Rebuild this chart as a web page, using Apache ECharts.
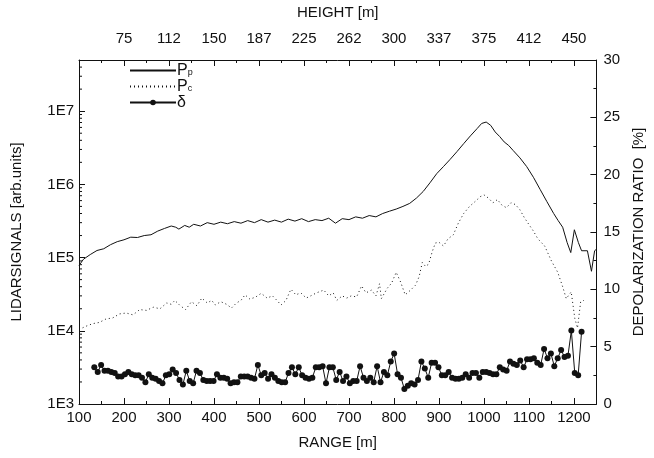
<!DOCTYPE html>
<html>
<head>
<meta charset="utf-8">
<script src="https://cdn.jsdelivr.net/npm/echarts@6/dist/echarts.min.js"></script>
<style>
  html, body { margin: 0; padding: 0; background: #fff; }
  #chart { width: 654px; height: 458px; }
</style>
</head>
<body>
<div id="chart"></div>
<script>
// P_p signal (solid)
const PP_RANGE = [100, 110, 125, 140, 155, 170, 185, 200, 215, 230, 245, 260, 275, 290, 305, 315, 322, 335, 345, 355,
  370, 385, 400, 415, 430, 445, 460, 475, 490, 505, 520, 535, 550, 565, 580, 595, 610, 625, 640, 655,
  670, 685, 700, 715, 730, 745, 760, 775, 790, 805, 820, 835, 850, 865, 880, 895, 910, 925, 940, 955,
  970, 985, 995, 1005, 1015, 1025, 1035, 1045, 1055, 1065, 1080, 1095, 1110, 1125, 1140, 1155, 1165, 1175, 1185, 1193,
  1201, 1210, 1217, 1230, 1239, 1246, 1250];
const PP_SIGNAL = [7.8e4, 9.5e4, 1.1e5, 1.25e5, 1.32e5, 1.5e5, 1.65e5, 1.75e5, 1.9e5, 1.88e5, 2.0e5, 2.05e5, 2.3e5, 2.5e5, 2.7e5, 2.6e5, 2.45e5, 2.75e5, 2.6e5, 2.85e5,
  2.7e5, 3.0e5, 2.85e5, 3.05e5, 2.9e5, 3.1e5, 2.95e5, 3.2e5, 3.0e5, 3.3e5, 3.05e5, 3.25e5, 3.05e5, 3.35e5, 3.15e5, 3.4e5, 3.1e5, 3.3e5, 3.2e5, 3.45e5,
  2.95e5, 3.4e5, 3.3e5, 3.6e5, 3.45e5, 3.75e5, 3.6e5, 4.0e5, 4.3e5, 4.6e5, 5.0e5, 5.5e5, 6.5e5, 8.0e5, 1.05e6, 1.4e6, 1.75e6, 2.2e6, 2.8e6, 3.6e6,
  4.6e6, 5.8e6, 6.8e6, 7.1e6, 6.4e6, 5.2e6, 4.5e6, 3.8e6, 3.4e6, 2.9e6, 2.3e6, 1.75e6, 1.25e6, 8.5e5, 5.8e5, 4.0e5, 3.2e5, 2.6e5, 1.6e5, 1.17e5,
  2.4e5, 1.6e5, 1.24e5, 1.24e5, 6.5e4, 1.24e5, 1.3e5];

// P_c signal (dotted)
const PC_RANGE = [100, 115, 130, 145, 160, 175, 190, 205, 220, 235, 250, 265, 280, 295, 305, 313, 325, 337, 350, 362,
  373, 385, 395, 403, 415, 428, 439, 450, 460, 469, 480, 493, 505, 518, 530, 540, 549, 560, 571, 582,
  593, 605, 615, 628, 644, 655, 665, 673, 685, 695, 705, 717, 728, 738, 750, 760, 768, 772, 785, 795,
  805, 815, 825, 837, 848, 856, 863, 870, 877, 885, 892, 900, 910, 920, 932, 943, 955, 968, 980, 992,
  1000, 1010, 1020, 1030, 1040, 1050, 1060, 1070, 1080, 1090, 1098, 1110, 1120, 1135, 1150, 1164, 1175, 1183, 1194, 1202,
  1208, 1215, 1222];
const PC_SIGNAL = [1.04e4, 1.15e4, 1.25e4, 1.3e4, 1.45e4, 1.5e4, 1.7e4, 1.75e4, 1.65e4, 1.95e4, 1.9e4, 2.1e4, 2.0e4, 2.4e4, 2.3e4, 2.6e4, 2.2e4, 1.95e4, 2.5e4, 2.2e4,
  2.8e4, 2.4e4, 2.6e4, 2.25e4, 2.5e4, 2.3e4, 2.05e4, 2.4e4, 2.6e4, 3.1e4, 2.7e4, 2.9e4, 3.25e4, 2.8e4, 3.0e4, 2.6e4, 2.25e4, 2.6e4, 3.7e4, 3.1e4,
  3.3e4, 2.8e4, 3.0e4, 3.3e4, 3.6e4, 3.0e4, 3.3e4, 2.6e4, 3.0e4, 2.8e4, 3.0e4, 2.9e4, 4.1e4, 3.3e4, 3.6e4, 3.0e4, 4.4e4, 2.75e4, 3.8e4, 4.5e4,
  6.3e4, 4.6e4, 3.1e4, 3.6e4, 4.2e4, 5.5e4, 8.6e4, 7.6e4, 8.1e4, 1.2e5, 1.58e5, 1.62e5, 1.44e5, 1.8e5, 2.05e5, 2.95e5, 4.0e5, 5.0e5, 5.8e5, 6.8e5,
  7.2e5, 6.5e5, 5.6e5, 6.2e5, 5.2e5, 4.8e5, 5.6e5, 5.3e5, 4.5e5, 3.5e5, 2.95e5, 2.3e5, 1.8e5, 1.44e5, 9.0e4, 6.3e4, 4.0e4, 2.75e4, 3.4e4, 1.47e4,
  1.09e4, 2.5e4, 2.6e4];

// depolarization ratio [%], one value per range bin, first bin 134 m, last 1217 m
const DEPOL_FIRST = 134;
const DEPOL_LAST = 1217;
const DEPOL_RATIO = [3.2, 2.8, 3.4, 2.9, 2.9, 2.8, 2.7, 2.4, 2.4, 2.6,
  2.8, 2.6, 2.5, 2.5, 2.3, 1.9, 2.6, 2.3, 2.2, 2.0,
  1.8, 2.5, 2.6, 3.0, 2.7, 2.1, 1.7, 2.9, 2.0, 1.8,
  2.9, 2.7, 2.1, 2.0, 2.0, 2.0, 2.6, 2.3, 2.3, 2.2,
  1.8, 1.9, 1.9, 2.4, 2.4, 2.4, 2.3, 2.2, 3.4, 2.5,
  2.7, 2.2, 2.6, 2.3, 2.0, 1.9, 1.9, 2.7, 3.2, 2.6,
  3.2, 2.5, 2.3, 2.2, 2.3, 3.2, 3.2, 3.3, 1.8, 3.2,
  3.2, 2.1, 2.8, 2.0, 2.4, 1.8, 2.0, 2.0, 3.3, 2.3,
  2.0, 2.3,
  1.9, 3.3, 1.9, 2.8, 2.5, 3.7, 4.4, 2.6, 2.3, 1.3,
  1.6, 1.8, 1.7, 2.1, 3.7, 3.1, 2.3, 3.6, 3.6, 3.2,
  2.5, 2.5, 2.8, 2.3, 2.2, 2.2, 2.3, 2.6, 2.3, 2.7,
  2.7, 2.3, 2.8, 2.8, 2.7, 2.6, 2.6, 3.2, 3.0, 2.9,
  3.7, 3.5, 3.4, 3.8, 3.2, 3.9, 3.9, 4.0, 3.6, 3.4,
  4.8, 4.0, 4.4, 3.3, 4.0, 4.7, 4.1, 4.2, 6.4, 2.7,
  2.5, 6.3];

// axes
const RANGE_MIN = 100, RANGE_MAX = 1250, RANGE_STEP = 100;
const HEIGHT_PER_RANGE = 0.375;   // height = 0.375 * range
const SIGNAL_MIN = 1e3, SIGNAL_MAX = 5e7;
const DEPOL_MIN = 0, DEPOL_MAX = 30, DEPOL_STEP = 5;

const depolStep = (DEPOL_LAST - DEPOL_FIRST) / (DEPOL_RATIO.length - 1);
const depolData = DEPOL_RATIO.map((v, i) => [DEPOL_FIRST + i * depolStep, v]);

// minor ticks of the log axis: 2..9 of every decade
const logMinor = [];
for (let e = 3; e <= 7; e++) {
  for (let m = 2; m <= 9; m++) {
    const v = m * Math.pow(10, e);
    if (v < SIGNAL_MAX) logMinor.push([RANGE_MIN, v]);
  }
}

const FONT = 'Liberation Sans, Arial, sans-serif';
const INK = '#111';

const chart = echarts.init(document.getElementById('chart'));

function axisBase() {
  return {
    axisLine: { show: true, onZero: false, lineStyle: { color: INK, width: 1 } },
    axisTick: { show: true, inside: true, length: 6, lineStyle: { color: INK, width: 1 } },
    minorTick: { show: true, splitNumber: 2, length: 3, lineStyle: { color: INK, width: 1 } },
    splitLine: { show: false },
    nameTextStyle: { color: INK, fontFamily: FONT, fontSize: 15 },
    nameLocation: 'middle'
  };
}
function labelBase(extra) {
  return Object.assign({ color: INK, fontFamily: FONT, fontSize: 15 }, extra);
}

const option = {
  animation: false,
  grid: { left: 79, right: 51, top: 54, bottom: 54 },
  legend: {
    orient: 'vertical',
    left: 124,
    top: 54,
    itemWidth: 46,
    itemHeight: 7,
    itemGap: -3.5,
    data: [
      { name: 'Pp', itemStyle: { opacity: 0 } },
      { name: 'Pc', itemStyle: { opacity: 0 } },
      { name: 'δ' }
    ],
    formatter: function (name) {
      if (name === 'Pp') return '{a|P}{s|p}';
      if (name === 'Pc') return '{a|P}{s|c}';
      return '{a|δ}{s| }';
    },
    textStyle: {
      color: INK,
      fontFamily: FONT,
      padding: [0, 0, 0, -4],
      rich: {
        a: { fontSize: 16, fontFamily: FONT, color: INK, lineHeight: 13 },
        s: { fontSize: 9, fontFamily: FONT, color: INK, lineHeight: 13, verticalAlign: 'bottom', padding: [9, 0, 0, 0] }
      }
    }
  },
  xAxis: [
    Object.assign(axisBase(), {
      type: 'value',
      position: 'bottom',
      min: RANGE_MIN,
      max: RANGE_MAX,
      interval: RANGE_STEP,
      name: 'RANGE [m]',
      nameGap: 31,
      axisLabel: labelBase({ margin: 6, showMaxLabel: false, formatter: function (v) { return String(v); } })
    }),
    Object.assign(axisBase(), {
      type: 'value',
      position: 'top',
      min: RANGE_MIN * HEIGHT_PER_RANGE,
      max: RANGE_MAX * HEIGHT_PER_RANGE,
      interval: RANGE_STEP * HEIGHT_PER_RANGE,
      name: 'HEIGHT [m]',
      nameGap: 40,
      axisLabel: labelBase({
        margin: 14,
        showMaxLabel: false,
        formatter: function (v) {
          if (v <= RANGE_MIN * HEIGHT_PER_RANGE + 0.01) return '';
          return String(Math.floor(v + 1e-6));
        }
      })
    })
  ],
  yAxis: [
    Object.assign(axisBase(), {
      type: 'log',
      logBase: 10,
      position: 'left',
      min: SIGNAL_MIN,
      max: SIGNAL_MAX,
      name: 'LIDARSIGNALS [arb.units]',
      nameGap: 55,
      minorTick: { show: false },
      axisLabel: labelBase({
        margin: 5,
        showMaxLabel: false,
        formatter: function (v) {
          const e = Math.log10(v);
          if (Math.abs(e - Math.round(e)) > 1e-6) return '';
          return '1E' + Math.round(e);
        }
      })
    }),
    Object.assign(axisBase(), {
      type: 'value',
      position: 'right',
      min: DEPOL_MIN,
      max: DEPOL_MAX,
      interval: DEPOL_STEP,
      name: 'DEPOLARIZATION RATIO  [%]',
      nameGap: 33,
      axisLabel: labelBase({ margin: 7, formatter: function (v) { return String(v); } })
    })
  ],
  series: [
    {
      name: 'Pp',
      type: 'line',
      xAxisIndex: 0,
      yAxisIndex: 0,
      data: PP_RANGE.map((r, i) => [r, PP_SIGNAL[i]]),
      symbol: 'none',
      lineStyle: { color: INK, width: 1 },
      itemStyle: { color: INK }
    },
    {
      name: 'Pc',
      type: 'line',
      xAxisIndex: 0,
      yAxisIndex: 0,
      data: PC_RANGE.map((r, i) => [r, PC_SIGNAL[i]]),
      symbol: 'none',
      lineStyle: { color: INK, width: 1, type: [1, 3] },
      itemStyle: { color: INK }
    },
    {
      name: 'δ',
      type: 'line',
      xAxisIndex: 0,
      yAxisIndex: 1,
      data: depolData,
      symbol: 'circle',
      symbolSize: 6,
      showSymbol: true,
      lineStyle: { color: INK, width: 1 },
      itemStyle: { color: INK }
    },
    {
      name: 'logMinor',
      type: 'custom',
      xAxisIndex: 0,
      yAxisIndex: 0,
      silent: true,
      clip: false,
      data: logMinor,
      renderItem: function (params, api) {
        const p = api.coord([api.value(0), api.value(1)]);
        return {
          type: 'line',
          shape: { x1: p[0], y1: p[1], x2: p[0] + 3, y2: p[1] },
          style: { stroke: INK, lineWidth: 1 }
        };
      }
    }
  ]
};

chart.setOption(option);
</script>
</body>
</html>
